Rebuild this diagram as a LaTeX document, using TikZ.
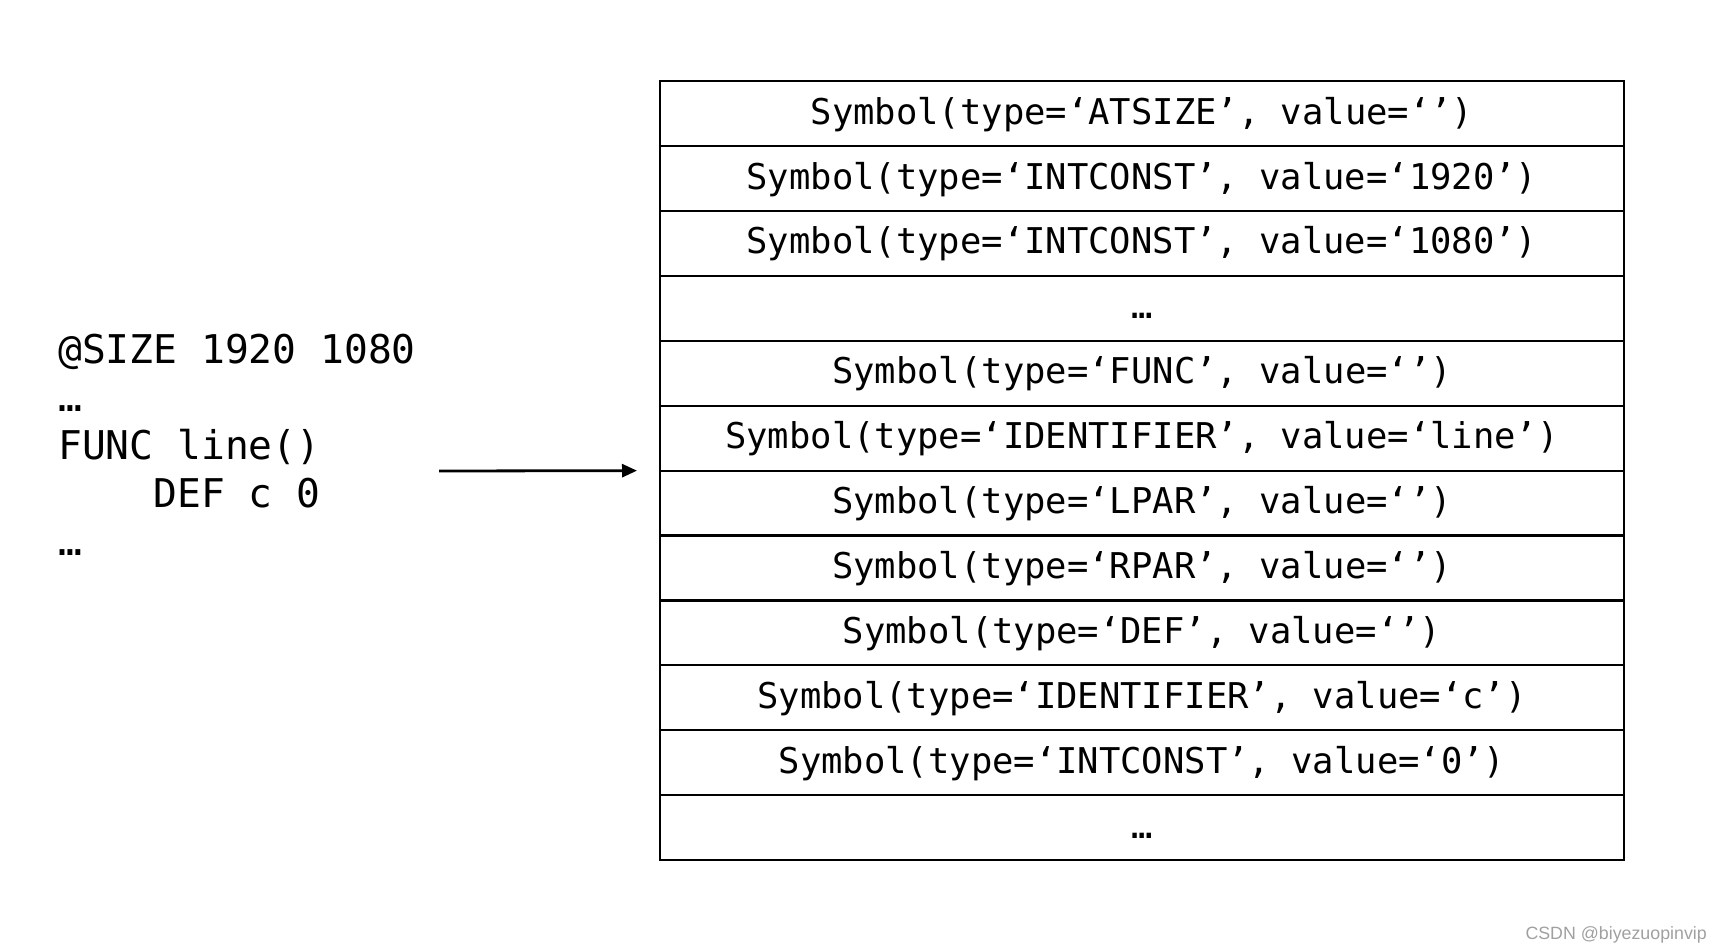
\documentclass[tikz,border=0pt]{standalone}
\usepackage{fontspec}
\newfontfamily\codefont{DejaVu Sans Mono}
\newfontfamily\markfont{Liberation Sans}
\usetikzlibrary{positioning,arrows.meta}

\tikzset{
  symrow/.style={draw, line width=2.2pt, minimum width=964pt, minimum height=64.9pt,
    inner sep=0pt, outer sep=0pt, text height=27pt, text depth=6pt,
    font=\codefont\fontsize{35.5}{42}\selectfont},
  codeline/.style={anchor=base west, inner sep=0pt,
    font=\codefont\fontsize{39.6}{47.8}\selectfont},
}

\begin{document}
\begin{tikzpicture}[x=1pt,y=1pt,yscale=-1,xscale=1]
\useasboundingbox (0,0) rectangle (1722,952);

% Text Node
\node [codeline] (code1) at (58,363.5) {@SIZE 1920 1080};
% Text Node
\node [codeline] (code2) at (58,411.5) {…};
% Text Node
\node [codeline] (code3) at (58,459.5) {FUNC line()};
% Text Node
\node [codeline] (code4) at (58,507.4) {\phantom{FUNC}DEF c 0};
% Text Node
\node [codeline] (code5) at (58,555) {…};

%Shape: Table of symbols
\node [symrow] (r1) at (1142,113.7) {Symbol(type=‘ATSIZE’, value=‘’)};
\node [symrow, below=0pt of r1] (r2) {Symbol(type=‘INTCONST’, value=‘1920’)};
\node [symrow, below=0pt of r2] (r3) {Symbol(type=‘INTCONST’, value=‘1080’)};
\node [symrow, below=0pt of r3] (r4) {…};
\node [symrow, below=0pt of r4] (r5) {Symbol(type=‘FUNC’, value=‘’)};
\node [symrow, below=0pt of r5] (r6) {Symbol(type=‘IDENTIFIER’, value=‘line’)};
\node [symrow, below=0pt of r6] (r7) {Symbol(type=‘LPAR’, value=‘’)};
\node [symrow, below=0pt of r7] (r8) {Symbol(type=‘RPAR’, value=‘’)};
\node [symrow, below=0pt of r8] (r9) {Symbol(type=‘DEF’, value=‘’)};
\node [symrow, below=0pt of r9] (r10) {Symbol(type=‘IDENTIFIER’, value=‘c’)};
\node [symrow, below=0pt of r10] (r11) {Symbol(type=‘INTCONST’, value=‘0’)};
\node [symrow, below=0pt of r11] (r12) {…};

%Shape: Arrow
\coordinate (src) at (439,471);
\draw [line width=2.8pt, -{Triangle[length=15pt,width=13pt]}] (src) -- ([xshift=-23pt]r6.south west);

% Text Node
\node [anchor=base east, inner sep=0pt, text={rgb,255:red,160;green,160;blue,160},
  font=\markfont\fontsize{17.8}{22}\selectfont] (mark) at (1707,939) {CSDN @biyezuopinvip};
\end{tikzpicture}
\end{document}
